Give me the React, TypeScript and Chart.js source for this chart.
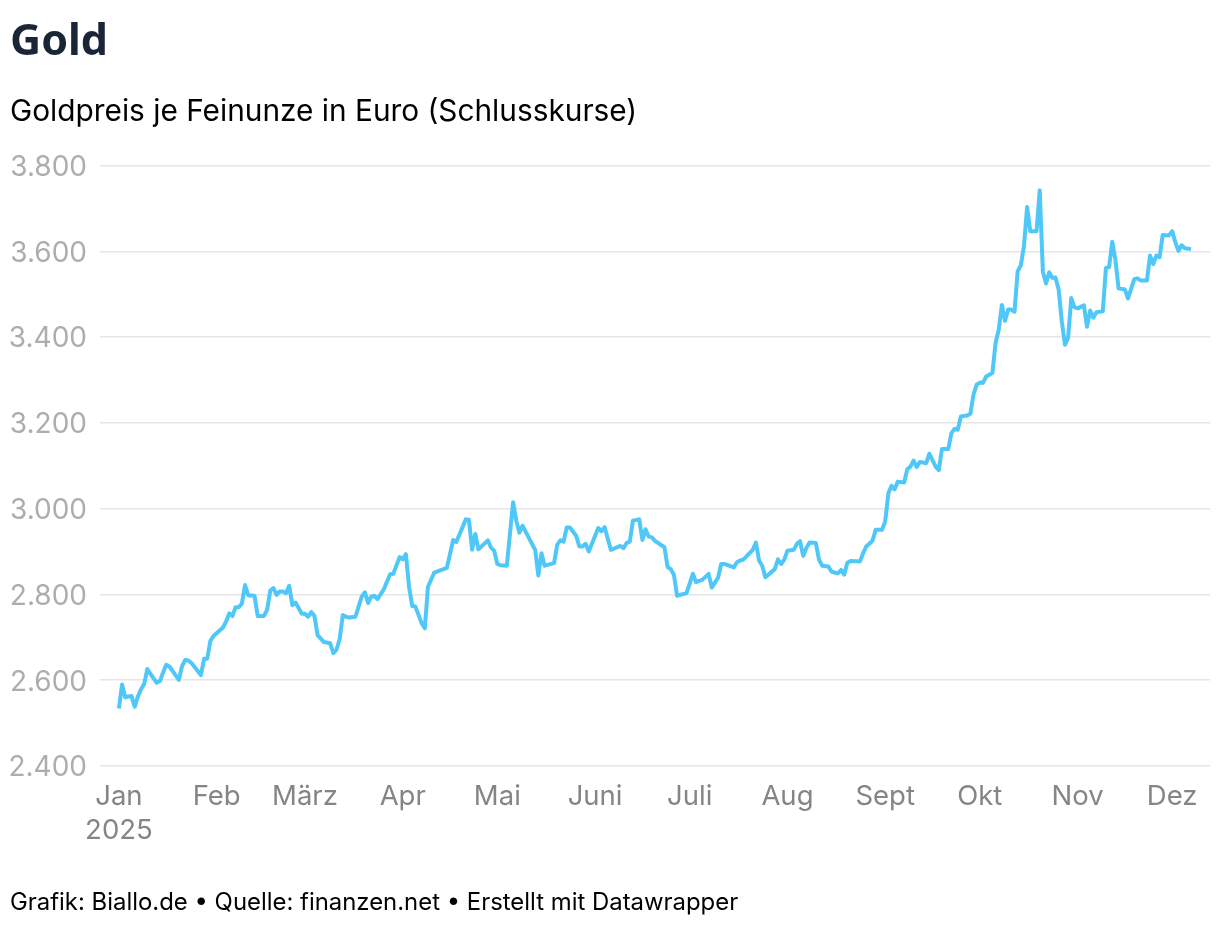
import React, { useEffect, useRef } from "react";
import { Chart, registerables } from "chart.js";

Chart.register(...registerables);

// days since 1 Jan 2025
const days = [
  0, 1, 2, 3, 4, 5, 6, 7, 8, 9, 10, 12, 13, 14, 15, 16, 17, 19, 20, 21, 22, 23, 26, 27, 28, 29, 30, 33, 34, 35, 36, 37,
  38, 39, 40, 41, 43, 44, 46, 47, 48, 49, 50, 51, 52, 53, 54, 55, 56, 58, 59, 60, 61, 62, 63, 65, 67, 68, 69, 70, 71,
  72, 73, 75, 77, 78, 79, 80, 81, 82, 84, 86, 87, 89, 90, 91, 92, 93, 94, 96, 97, 98, 100, 104, 106, 107, 110, 111,
  112, 113, 114, 117, 118, 119, 120, 121, 123, 125, 126, 127, 128, 132, 133, 134, 135, 138, 139, 140, 141, 142, 143,
  145, 146, 147, 148, 149, 152, 153, 154, 156, 159, 160, 161, 162, 163, 165, 166, 167, 168, 169, 170, 173, 174, 175,
  176, 177, 180, 182, 183, 185, 187, 188, 190, 191, 192, 195, 196, 197, 198, 201, 202, 203, 204, 205, 208, 209, 210,
  211, 212, 214, 215, 216, 217, 218, 219, 221, 222, 223, 225, 226, 228, 229, 230, 231, 232, 235, 236, 237, 238, 239,
  240, 242, 243, 244, 245, 246, 247, 249, 250, 251, 252, 253, 254, 256, 257, 259, 260, 261, 263, 264, 265, 266, 267,
  269, 270, 271, 272, 273, 274, 275, 276, 277, 278, 279, 280, 281, 282, 283, 284, 285, 286, 287, 288, 289, 291, 292,
  293, 294, 295, 296, 297, 298, 299, 300, 301, 302, 303, 304, 306, 307, 308, 309, 310, 312, 313, 314, 315, 316, 317,
  319, 320, 322, 323, 324, 326, 327, 328, 329, 330, 331, 333, 334, 335, 336, 337, 338, 340,
];

const goldPrice = [
  2534, 2590, 2560, 2562, 2563, 2538, 2562, 2579, 2591, 2626, 2615, 2594, 2598, 2618, 2636, 2632, 2622, 2601, 2632,
  2647, 2646, 2640, 2612, 2650, 2650, 2692, 2703, 2723, 2737, 2756, 2750, 2770, 2770, 2779, 2822, 2798, 2797, 2750,
  2750, 2764, 2809, 2815, 2799, 2807, 2807, 2803, 2820, 2775, 2781, 2755, 2755, 2748, 2759, 2750, 2705, 2689, 2686,
  2663, 2671, 2696, 2752, 2748, 2746, 2748, 2795, 2805, 2780, 2795, 2797, 2789, 2812, 2847, 2848, 2887, 2882, 2894,
  2818, 2773, 2772, 2733, 2721, 2818, 2851, 2862, 2927, 2922, 2975, 2974, 2904, 2941, 2905, 2926, 2909, 2902, 2871,
  2868, 2867, 3015, 2972, 2944, 2960, 2904, 2844, 2896, 2867, 2873, 2916, 2926, 2923, 2956, 2956, 2937, 2912, 2912,
  2918, 2900, 2955, 2947, 2957, 2904, 2913, 2908, 2920, 2923, 2972, 2975, 2927, 2952, 2935, 2933, 2925, 2910, 2864,
  2859, 2846, 2797, 2803, 2848, 2829, 2834, 2848, 2816, 2839, 2871, 2871, 2863, 2875, 2879, 2881, 2904, 2921, 2879,
  2867, 2840, 2859, 2882, 2871, 2881, 2902, 2904, 2918, 2924, 2890, 2908, 2921, 2920, 2881, 2867, 2865, 2853, 2849,
  2857, 2846, 2874, 2878, 2877, 2896, 2912, 2918, 2926, 2951, 2951, 2970, 3036, 3053, 3045, 3063, 3061, 3092, 3098,
  3112, 3097, 3109, 3106, 3128, 3098, 3090, 3139, 3139, 3176, 3186, 3184, 3215, 3217, 3221, 3266, 3289, 3294, 3293,
  3308, 3312, 3316, 3386, 3417, 3475, 3438, 3464, 3464, 3459, 3553, 3567, 3612, 3703, 3647, 3647, 3742, 3553, 3525,
  3551, 3538, 3539, 3511, 3437, 3382, 3398, 3491, 3470, 3467, 3474, 3424, 3462, 3445, 3458, 3460, 3561, 3563, 3622,
  3581, 3514, 3511, 3490, 3535, 3537, 3532, 3532, 3590, 3570, 3590, 3586, 3638, 3637, 3647, 3621, 3601, 3614, 3607,
  3605,
];

const monthDays = [0, 31, 59, 90, 120, 151, 181, 212, 243, 273, 304, 334];
const monthLabels = [["Jan", "2025"], "Feb", "März", "Apr", "Mai", "Juni", "Juli", "Aug", "Sept", "Okt", "Nov", "Dez"];

const App = () => {
  const chartRef = useRef<HTMLCanvasElement | null>(null);

  useEffect(() => {
    document.body.style.margin = "0";
    const chart = new Chart(chartRef.current!, {
      type: "line",
      data: {
        datasets: [
          {
            data: days.map((d, i) => ({ x: d, y: goldPrice[i] })),
            borderColor: "#4fc7f8",
            borderWidth: 4,
            borderJoinStyle: "round",
            pointRadius: 0,
            tension: 0,
            clip: false,
          },
        ],
      },
      options: {
        animation: false,
        responsive: false,
        layout: { padding: { top: 165.5, right: 10 } },
        plugins: { legend: { display: false }, tooltip: { enabled: false } },
        scales: {
          x: {
            type: "linear",
            bounds: "data",
            min: -6,
            max: 346,
            grid: { display: false },
            border: { display: false },
            afterBuildTicks: (axis) => {
              axis.ticks = monthDays.map((value) => ({ value }));
            },
            afterFit: (axis) => {
              axis.height = 160;
            },
            ticks: {
              autoSkip: false,
              maxRotation: 0,
              color: "#858585",
              padding: 6,
              font: { family: "Inter", size: 27.5, lineHeight: 1.24 },
              callback: (value) => monthLabels[monthDays.indexOf(Number(value))],
            },
          },
          y: {
            min: 2400,
            max: 3800,
            afterFit: (axis) => {
              axis.width = 100;
            },
            grid: { color: "#e5e5e5", lineWidth: 1.5, drawTicks: false },
            border: { display: false },
            ticks: {
              stepSize: 200,
              color: "#adadad",
              padding: 13,
              // empty first line + small line height nudges the label 2px down
              font: { family: "Inter", size: 28, lineHeight: "4px" },
              callback: (value) => ["", String(value).replace(/(\d)(\d{3})$/, "$1.$2")],
            },
          },
        },
      },
    });
    return () => chart.destroy();
  }, []);

  return (
    <div style={{ position: "relative", width: 1220, height: 926, background: "#fff", overflow: "hidden" }}>
      <canvas ref={chartRef} width={1220} height={926} style={{ position: "absolute", left: 0, top: 0 }} />
      <div style={{ position: "absolute", left: 10, top: 9, font: "700 43px 'Noto Sans'", color: "#1a2538" }}>Gold</div>
      <div style={{ position: "absolute", left: 10, top: 92, font: "29.8px Inter", color: "#000" }}>
        Goldpreis je Feinunze in Euro (Schlusskurse)
      </div>
      <div style={{ position: "absolute", left: 10, top: 887, font: "23.9px Inter", color: "#000" }}>
        Grafik: Biallo.de • Quelle: finanzen.net • Erstellt mit Datawrapper
      </div>
    </div>
  );
};

export default App;
